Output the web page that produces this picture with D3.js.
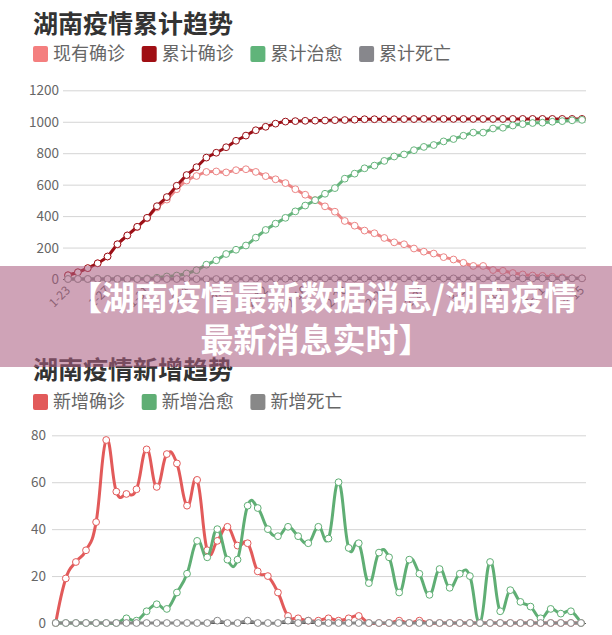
<!DOCTYPE html>
<html><head><meta charset="utf-8">
<script src="https://cdn.jsdelivr.net/npm/d3@7"></script>
<style>
html,body{margin:0;padding:0;background:#fff;}
svg{display:block;font-family:"Noto Sans CJK SC","Noto Sans",sans-serif;}
</style></head>
<body><svg id="c" width="612" height="635"></svg>
<script>
// ---------- data ----------
const dates = ["1-23","1-24","1-25","1-26","1-27","1-28","1-29","1-30","1-31",
"2-1","2-2","2-3","2-4","2-5","2-6","2-7","2-8","2-9","2-10","2-11","2-12","2-13","2-14","2-15","2-16","2-17","2-18","2-19","2-20","2-21","2-22","2-23","2-24","2-25","2-26","2-27","2-28","2-29",
"3-1","3-2","3-3","3-4","3-5","3-6","3-7","3-8","3-9","3-10","3-11","3-12","3-13","3-14","3-15"];

// cumulative chart
const topTitle = "湖南疫情累计趋势";
const topNames = ["现有确诊","累计确诊","累计治愈","累计死亡"];
const existing = [24,43,69,100,143,221,277,330,386,455,505,571,626,655,681,684,678,692,698,681,654,634,610,571,536,502,462,428,369,339,308,291,261,233,221,194,174,162,139,124,103,83,83,57,52,38,29,22,20,14,10,5,5];
const cumConfirmed = [24,43,69,100,143,221,277,332,389,463,521,593,661,711,772,803,838,879,912,946,968,988,1001,1004,1006,1007,1008,1010,1011,1013,1016,1016,1016,1016,1017,1017,1018,1018,1018,1018,1018,1018,1018,1018,1018,1018,1018,1018,1018,1018,1018,1018,1018];
const cumRecovered = [0,0,0,0,0,0,0,2,3,8,16,22,35,56,91,119,159,186,213,263,312,352,389,430,467,501,542,578,638,670,704,721,751,779,792,819,840,852,875,890,911,931,931,957,962,976,985,992,994,1000,1004,1009,1012];
const cumDeaths = [0,0,0,0,0,0,0,0,0,0,0,0,0,0,0,0,1,1,1,2,2,2,2,3,3,4,4,4,4,4,4,4,4,4,4,4,4,4,4,4,4,4,4,4,4,4,4,4,4,4,4,4,4];
const topTicks = [0,200,400,600,800,1000,1200];

// daily chart
const botTitle = "湖南疫情新增趋势";
const botNames = ["新增确诊","新增治愈","新增死亡"];
const newConfirmed = [0,19,26,31,43,78,56,55,57,74,58,72,68,50,61,31,35,41,33,34,22,20,13,3,2,1,1,2,1,2,3,0,0,0,1,0,1,0,0,0,0,0,0,0,0,0,0,0,0,0,0,0,0];
const newRecovered = [0,0,0,0,0,0,0,2,1,5,8,6,13,21,35,28,40,27,27,50,49,40,37,41,37,34,41,36,60,32,34,17,30,28,13,27,21,12,23,15,21,20,0,26,5,14,9,7,2,6,4,5,0];
const newDeaths = [0,0,0,0,0,0,0,0,0,0,0,0,0,0,0,0,1,0,0,1,0,0,0,1,0,1,0,0,0,0,0,0,0,0,0,0,0,0,0,0,0,0,0,0,0,0,0,0,0,0,0,0,0];
const botTicks = [0,20,40,60,80];

const bannerLines = ["【湖南疫情最新数据消息/湖南疫情","最新消息实时】"];

// ---------- styles ----------
const topColors = ["#ec8585","#9a0f16","#66b47c","#8a8a8e"];
const topLegendColors = ["#f47f7f","#a00f14","#60b47a","#87878c"];
const botColors = ["#e25a5a","#5fae74","#888888"];

const svg = d3.select("#c");

function chart(cfg){
  const g = svg.append("g");
  const x = d3.scalePoint().domain(dates).range(cfg.xRange);
  const y = d3.scaleLinear().domain(cfg.yDomain).range(cfg.yRange);
  // title
  g.append("text").attr("x",33).attr("y",cfg.titleY).text(cfg.title)
    .attr("font-size",25).attr("font-weight","bold").attr("fill","#333");
  // legend
  const lg = g.selectAll(".lg").data(cfg.names).enter().append("g")
    .attr("transform",(d,i)=>`translate(${33+i*108.7},${cfg.legendY})`);
  lg.append("rect").attr("width",15).attr("height",16).attr("rx",2).attr("fill",(d,i)=>cfg.legendColors[i]);
  lg.append("text").attr("x",20).attr("y",14).text(d=>d).attr("font-size",18).attr("fill","#666");
  // grid
  const grid = g.append("g");
  grid.selectAll("line").data(cfg.ticks).enter().append("line")
    .attr("x1",cfg.gridX[0]).attr("x2",cfg.gridX[1])
    .attr("y1",d=>y(d)+0.5).attr("y2",d=>y(d)+0.5)
    .attr("stroke","#d4d4d4").attr("stroke-width",1);
  grid.selectAll("text").data(cfg.ticks).enter().append("text")
    .attr("x",cfg.labelX).attr("y",d=>y(d)+5).attr("text-anchor","end")
    .attr("font-size",13.5).attr("fill","#666").text(d=>d);
  // x axis line
  g.append("line").attr("x1",cfg.gridX[0]).attr("x2",cfg.gridX[1])
    .attr("y1",y(0)+0.5).attr("y2",y(0)+0.5).attr("stroke","#555").attr("stroke-width",1);
  // x labels (only where they fit inside the picture)
  if (cfg.labelEvery) {
    const xl = g.append("g");
    xl.selectAll("text").data(dates.filter((d,i)=>i%cfg.labelEvery===0)).enter().append("text")
      .attr("transform",d=>`translate(${x(d)+3},${y(0)+12}) rotate(-45)`)
      .attr("text-anchor","end").attr("font-size",12).attr("fill","#666").text(d=>d);
  }
  // series
  const line = d3.line().x((d,i)=>x(dates[i])).y(d=>y(d)).curve(d3.curveCardinal.tension(cfg.tension));
  cfg.series.forEach((s,k)=>{
    const sg = g.append("g");
    sg.append("path").attr("d",line(s)).attr("fill","none")
      .attr("stroke",cfg.colors[k]).attr("stroke-width",3).attr("stroke-linejoin","round");
    sg.selectAll("circle").data(s).enter().append("circle")
      .attr("cx",(d,i)=>x(dates[i])).attr("cy",d=>y(d)).attr("r",3.4)
      .attr("fill","#fff").attr("stroke",cfg.colors[k]).attr("stroke-width",1);
  });
}

chart({
  title: topTitle, titleY: 33, legendY: 46, names: topNames, legendColors: topLegendColors,
  colors: topColors, series: [existing,cumConfirmed,cumRecovered,cumDeaths],
  xRange: [68,582], yDomain: [0,1200], yRange: [279,90.3], ticks: topTicks,
  gridX: [63,586], labelX: 59, labelEvery: 4, tension: 0.2
});
chart({
  title: botTitle, titleY: 379, legendY: 394, names: botNames, legendColors: botColors,
  colors: botColors, series: [newConfirmed,newRecovered,newDeaths],
  xRange: [55.7,581], yDomain: [0,80], yRange: [623,435.3], ticks: botTicks,
  gridX: [52,586], labelX: 46, labelEvery: 0, tension: -0.3
});

// banner
const b = svg.append("g");
b.append("rect").attr("x",0).attr("y",266).attr("width",612).attr("height",101)
  .attr("fill","rgb(171,94,129)").attr("fill-opacity",0.57);
const bannerX = [323, 316];
b.selectAll("text").data(bannerLines).enter().append("text")
  .attr("x",(d,i)=>bannerX[i]).attr("y",(d,i)=>310+i*42).attr("text-anchor","middle")
  .attr("font-size",33).attr("font-weight","bold").attr("fill","#fff").text(d=>d);
</script></body></html>
